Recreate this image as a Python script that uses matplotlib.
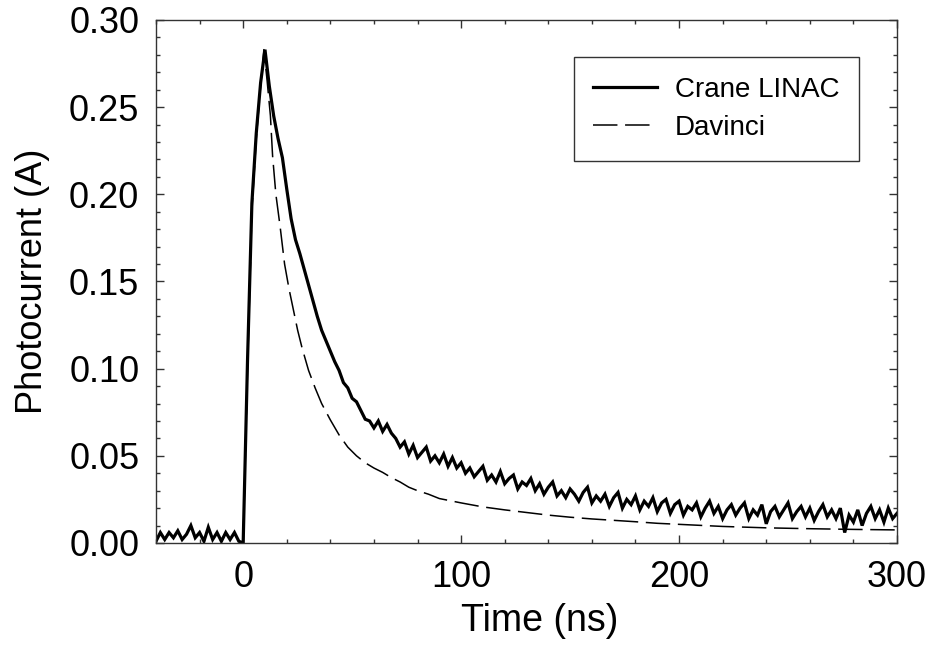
import numpy as np
import matplotlib
matplotlib.use("Agg")
import matplotlib.pyplot as plt
from matplotlib.ticker import MultipleLocator, FormatStrFormatter

plt.rcParams['font.family'] = ['Liberation Sans', 'DejaVu Sans']

# Crane LINAC measured photocurrent, sampled every 2 ns starting at -40 ns
crane_start = -40
crane_step = 2
crane_current = [
    # -40 .. -2
    0.001, 0.006, 0.002, 0.006, 0.003, 0.007, 0.002, 0.005, 0.010, 0.003,
    0.006, 0.001, 0.009, 0.002, 0.006, 0.001, 0.006, 0.002, 0.006, 0.001,
    # 0
    0.000,
    # 2 .. 38
    0.105, 0.195, 0.235, 0.264, 0.283, 0.262, 0.245, 0.232, 0.221, 0.203,
    0.186, 0.174, 0.166, 0.157, 0.148, 0.139, 0.130, 0.122, 0.116,
    # 40 .. 58
    0.110, 0.104, 0.099, 0.092, 0.089, 0.083, 0.081, 0.076, 0.071, 0.070,
    # 60 .. 98
    0.066, 0.070, 0.064, 0.068, 0.063, 0.060, 0.055, 0.058, 0.051, 0.056,
    0.049, 0.052, 0.055, 0.047, 0.050, 0.046, 0.051, 0.044, 0.049, 0.043,
    # 100 .. 198
    0.046, 0.040, 0.043, 0.038, 0.041, 0.044, 0.036, 0.039, 0.035, 0.041,
    0.034, 0.037, 0.039, 0.031, 0.035, 0.033, 0.037, 0.030, 0.034, 0.028,
    0.032, 0.035, 0.027, 0.030, 0.026, 0.031, 0.028, 0.024, 0.029, 0.032,
    0.023, 0.027, 0.024, 0.028, 0.021, 0.026, 0.029, 0.020, 0.025, 0.022,
    0.027, 0.019, 0.024, 0.021, 0.026, 0.018, 0.023, 0.025, 0.017, 0.022,
    # 200 .. 300
    0.024, 0.016, 0.021, 0.019, 0.023, 0.015, 0.020, 0.024, 0.017, 0.021,
    0.014, 0.019, 0.022, 0.016, 0.020, 0.023, 0.014, 0.019, 0.016, 0.022,
    0.011, 0.018, 0.021, 0.015, 0.019, 0.023, 0.014, 0.018, 0.021, 0.015,
    0.020, 0.013, 0.018, 0.022, 0.015, 0.019, 0.014, 0.020, 0.006, 0.016,
    0.012, 0.019, 0.010, 0.017, 0.021, 0.014, 0.019, 0.012, 0.020, 0.014,
    0.017,
]
crane_time = crane_start + crane_step * np.arange(len(crane_current))

# Davinci simulation
davinci_time = [0, 2, 4, 6, 8, 9.5, 11, 12.5, 13.5, 15, 17, 19, 21, 23, 25, 27,
                30, 33, 36, 40, 44, 48, 52, 56, 60, 64, 68, 72, 76, 80, 85, 90,
                100, 110, 120, 130, 140, 150, 160, 170, 180, 190, 200, 220, 240,
                260, 280, 300]
davinci_current = [0.0, 0.1, 0.19, 0.232, 0.262, 0.283, 0.265, 0.245, 0.222, 0.2,
                   0.181, 0.16, 0.146, 0.134, 0.122, 0.112, 0.099, 0.089, 0.080,
                   0.0706, 0.062, 0.055, 0.050, 0.046, 0.043, 0.0405, 0.0375,
                   0.035, 0.032, 0.030, 0.028, 0.0255, 0.023, 0.0207, 0.019,
                   0.0175, 0.016, 0.0148, 0.0138, 0.013, 0.0122, 0.0113, 0.0107,
                   0.0095, 0.0087, 0.0082, 0.0078, 0.0075]

fig = plt.figure(figsize=(9.32, 6.59), dpi=100)
ax = fig.add_axes([156/932, 1 - 543/659, (897-156)/932, (543-20)/659])

ax.plot(crane_time, crane_current, color='black', lw=2.3, label='Crane LINAC',
        solid_joinstyle='miter')
dl, = ax.plot(davinci_time, davinci_current, color='black', lw=1.1,
              label='Davinci')
dl.set_dashes((16, 5))

ax.set_xlim(-40, 300)
ax.set_ylim(0, 0.30)
ax.xaxis.set_major_locator(MultipleLocator(100))
ax.xaxis.set_minor_locator(MultipleLocator(20))
ax.yaxis.set_major_locator(MultipleLocator(0.05))
ax.yaxis.set_minor_locator(MultipleLocator(0.01))
ax.yaxis.set_major_formatter(FormatStrFormatter('%.2f'))
ax.tick_params(which='both', direction='in', top=True, right=True,
               color='#333333', width=1)
ax.tick_params(which='major', length=5.5, labelsize=26, pad=12)
ax.tick_params(which='minor', length=3)
for s in ax.spines.values():
    s.set_color('#333333')
    s.set_linewidth(1)

ax.set_xlabel('Time (ns)', fontsize=27)
ax.xaxis.set_label_coords((540 - 156) / (897 - 156), -0.115)
ax.xaxis.label.set_va('top')
ax.set_ylabel('Photocurrent (A)', fontsize=26, labelpad=14)

leg = ax.legend(loc='upper right', bbox_to_anchor=(0.949, 0.929),
                borderaxespad=0, fancybox=False, fontsize=20,
                edgecolor='#333333', framealpha=1, handlelength=2.3,
                handletextpad=0.65, borderpad=0.7, labelspacing=0.45)
leg.get_frame().set_linewidth(1)

fig.savefig('out.png', dpi=100)
